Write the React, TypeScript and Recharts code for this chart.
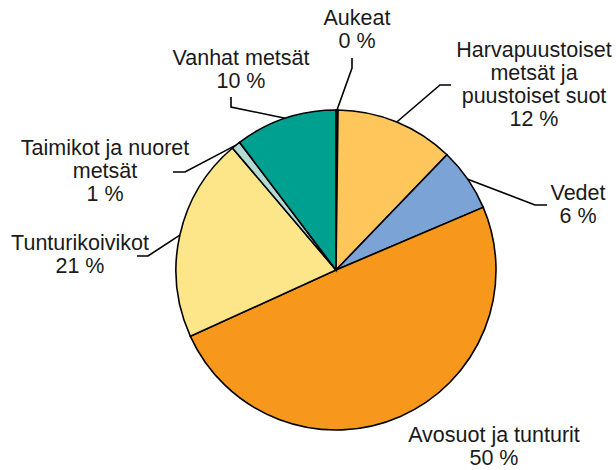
import { PieChart, Pie, Cell } from "recharts"

// land cover classes, clockwise from 12 o'clock
const categories = [
  "Aukeat",
  "Harvapuustoiset metsät ja puustoiset suot",
  "Vedet",
  "Avosuot ja tunturit",
  "Tunturikoivikot",
  "Taimikot ja nuoret metsät",
  "Vanhat metsät",
]
const shares = [0.2, 12.0, 6.4, 49.6, 20.6, 0.9, 10.3]
const labelRows = [
  ["Aukeat"],
  ["Harvapuustoiset", "metsät ja", "puustoiset suot"],
  ["Vedet"],
  ["Avosuot ja tunturit"],
  ["Tunturikoivikot"],
  ["Taimikot ja nuoret", "metsät"],
  ["Vanhat metsät"],
]
const colors = ["#f4f4f4", "#fec65b", "#7ba3d5", "#f7981d", "#fde68a", "#b3dad5", "#00a091"]

const data = categories.map((name, i) => ({ name, value: shares[i] }))

// leader line elbow/end + text anchor for each label
const LAYOUT = [
  { elbow: [352, 68], end: [352, 58], tx: 357, ty: 25 },
  { elbow: [440, 85], end: [451, 85], tx: 534, ty: 57 },
  { elbow: [535, 205], end: [547, 205], tx: 578, ty: 200 },
  { elbow: null, end: null, tx: 494, ty: 442 },
  { elbow: [148, 256], end: [137, 256], tx: 80, ty: 250 },
  { elbow: [185, 172], end: [173, 172], tx: 105, ty: 155 },
  { elbow: [231, 107], end: [231, 97], tx: 241, ty: 65 },
]

const RAD = Math.PI / 180
const LINE_H = 23

const renderLabel = (props: any) => {
  const { cx, cy, midAngle, outerRadius, index, value } = props
  const l = LAYOUT[index]
  const sx = cx + outerRadius * Math.cos(-midAngle * RAD)
  const sy = cy + outerRadius * Math.sin(-midAngle * RAD)
  const rows = [...labelRows[index], `${Math.round(value)} %`]
  return (
    <g key={`lbl-${index}`}>
      {l.elbow && (
        <polyline
          points={`${sx},${sy} ${l.elbow[0]},${l.elbow[1]} ${l.end![0]},${l.end![1]}`}
          fill="none"
          stroke="#000"
          strokeWidth={1.6}
        />
      )}
      <text
        x={l.tx}
        y={l.ty}
        textAnchor="middle"
        fill="#1a1a1a"
        fontSize={21.5}
        fontFamily="'Liberation Sans', Arial, sans-serif"
      >
        {rows.map((r, i) => (
          <tspan key={i} x={l.tx} y={l.ty + i * LINE_H}>
            {r}
          </tspan>
        ))}
      </text>
    </g>
  )
}

export default function App() {
  return (
    <div style={{ position: "absolute", left: 0, top: 0, width: 616, height: 470, background: "#fff" }}>
      <PieChart width={616} height={470} margin={{ top: 0, right: 0, bottom: 0, left: 0 }}>
        <Pie
          data={data}
          dataKey="value"
          nameKey="name"
          cx={336}
          cy={270}
          outerRadius={160}
          startAngle={90}
          endAngle={-270}
          stroke="#000"
          strokeWidth={1.6}
          label={renderLabel}
          labelLine={false}
          isAnimationActive={false}
        >
          {data.map((d, i) => (
            <Cell key={d.name} fill={colors[i]} />
          ))}
        </Pie>
      </PieChart>
    </div>
  )
}
